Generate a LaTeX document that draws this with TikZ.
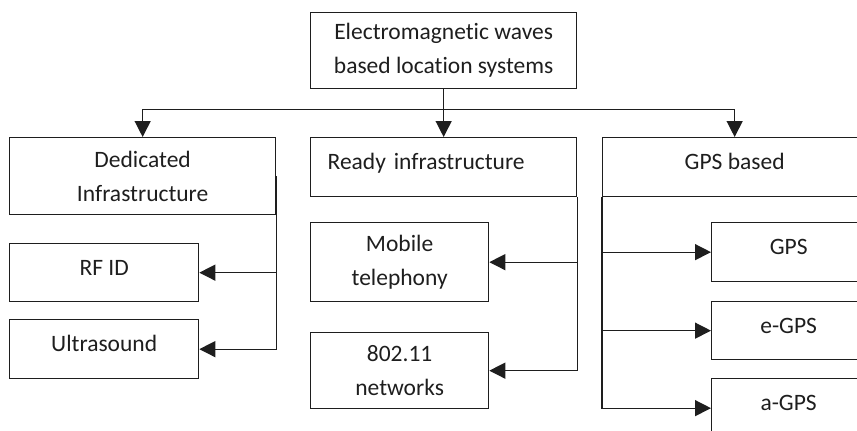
\documentclass[tikz,border=0pt]{standalone}
\usepackage{fontspec}
\setmainfont[Ligatures=NoCommon]{Carlito}
\usetikzlibrary{arrows.meta}
\definecolor{ink}{HTML}{1E1E1E}
\begin{document}
\begin{tikzpicture}[x=1pt,y=-1pt,
  box/.style={draw=ink, line width=1.3pt, rectangle, inner sep=0pt, align=center,
    text=ink, font=\fontsize{23.5}{34}\selectfont, anchor=north west},
  one/.style={text height=17pt, text depth=12pt},
  conn/.style={draw=ink, line width=1.3pt},
  arr/.style={conn, -{Triangle[length=16pt,width=16pt]}}]
\clip (0,0) rectangle (857,431);
\node[box, minimum width=266pt, minimum height=76pt] (top) at (310,12) {Electromagnetic waves\\based location systems};
\node[box, minimum width=266pt, minimum height=77pt] (ded) at (9,137) {Dedicated\\Infrastructure};
\node[box, one, minimum width=189pt, minimum height=58pt] (rfid) at (9,243) {RF ID};
\node[box, one, minimum width=189pt, minimum height=59pt] (ultra) at (9,319) {Ultrasound};
\node[box, one, minimum width=266pt, minimum height=59pt, text width=232pt, align=left] (ready) at (310,137) {Ready infrastructure};
\node[box, minimum width=178pt, minimum height=79pt] (mob) at (310,222) {Mobile\\telephony};
\node[box, minimum width=178pt, minimum height=76pt] (net) at (310,332) {802.11\\networks};
\node[box, one, minimum width=264pt, minimum height=59pt] (gpsb) at (602,137) {GPS based};
\node[box, one, minimum width=154pt, minimum height=59pt] (gps) at (711,222) {GPS};
\node[box, one, minimum width=154pt, minimum height=58pt] (egps) at (711,301) {e-GPS};
\node[box, one, minimum width=154pt, minimum height=59pt] (agps) at (711,378) {a-GPS};
\coordinate (j) at ([yshift=-20pt]top.south);
\draw[conn] (top.south) -- (j);
\draw[arr] (j) -| (ded.north);
\draw[arr] (j) -- (ready.north);
\draw[arr] (j) -| (gpsb.north);
\draw[arr] (ded.east) |- (rfid.east);
\draw[arr] (ded.east) |- (ultra.east);
\draw[arr] (ready.south east) |- (mob.east);
\draw[arr] (ready.south east) |- (net.east);
\draw[arr] (gpsb.south west) |- (gps.west);
\draw[arr] (gpsb.south west) |- (egps.west);
\draw[arr] (gpsb.south west) |- (agps.west);
\end{tikzpicture}
\end{document}
